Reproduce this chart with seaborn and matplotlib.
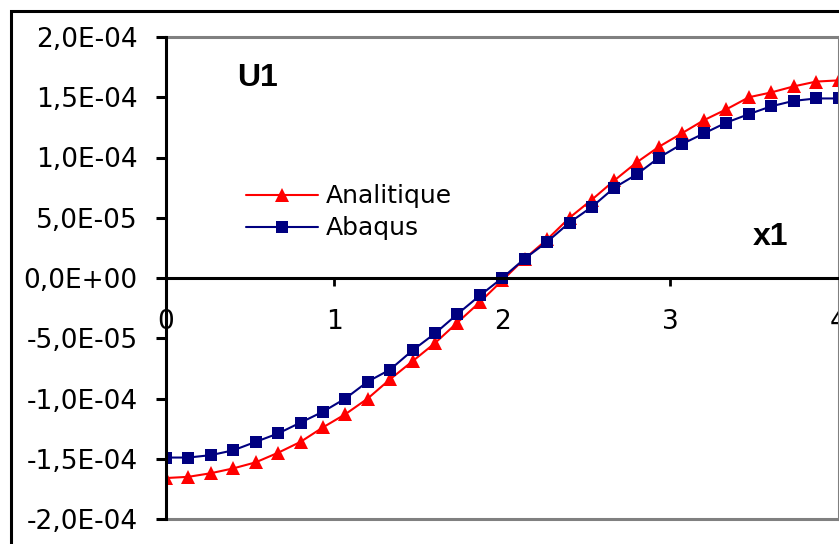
import matplotlib
matplotlib.use("Agg")
import matplotlib.pyplot as plt
from matplotlib.patches import Rectangle
import seaborn as sns
import numpy as np

# ---- data ----
x1 = [0.0, 0.133, 0.267, 0.4, 0.533, 0.667, 0.8, 0.933, 1.067, 1.2, 1.333,
      1.467, 1.6, 1.733, 1.867, 2.0, 2.133, 2.267, 2.4, 2.533, 2.667, 2.8,
      2.933, 3.067, 3.2, 3.333, 3.467, 3.6, 3.733, 3.867, 4.0]
analitique = [-16.6, -16.5, -16.2, -15.8, -15.3, -14.5, -13.6, -12.4, -11.3, -10.0, -8.4,
              -6.9, -5.4, -3.7, -2.0, -0.2, 1.6, 3.2, 5.0, 6.5, 8.1, 9.6,
              10.9, 12.0, 13.1, 14.0, 15.0, 15.4, 15.9, 16.3, 16.4]
abaqus = [-14.9, -14.9, -14.7, -14.3, -13.6, -12.9, -12.0, -11.1, -10.0, -8.6, -7.6,
          -6.0, -4.6, -3.0, -1.45, 0.0, 1.6, 3.0, 4.6, 5.9, 7.5, 8.6,
          10.0, 11.1, 12.0, 12.9, 13.6, 14.25, 14.7, 14.9, 14.9]
scale = 1e-5
series_names = ["Analitique", "Abaqus"]
xticks = [0, 1, 2, 3, 4]
xtick_labels = ["0", "1", "2", "3", "4"]
yticks = [-2e-4, -1.5e-4, -1e-4, -5e-5, 0.0, 5e-5, 1e-4, 1.5e-4, 2e-4]
ytick_labels = ["-2,0E-04", "-1,5E-04", "-1,0E-04", "-5,0E-05", "0,0E+00",
                "5,0E-05", "1,0E-04", "1,5E-04", "2,0E-04"]
title_text = "U1"
xlabel_text = "x1"

sns.set_style("white")
plt.rcParams["font.family"] = ["DejaVu Sans"]
plt.rcParams["text.color"] = "black"
plt.rcParams["xtick.color"] = "black"
plt.rcParams["ytick.color"] = "black"
plt.rcParams["xtick.labelcolor"] = "black"
plt.rcParams["ytick.labelcolor"] = "black"

W, H = 839, 544
fig = plt.figure(figsize=(W / 100, H / 100), dpi=100)
ax = fig.add_axes([166 / W, 25 / H, 672.5 / W, 482 / H])

ya = np.array(analitique) * scale
yb = np.array(abaqus) * scale
sns.lineplot(x=x1, y=ya, ax=ax, color="#FF0000", marker="^", markersize=9.5,
             markeredgewidth=0, linewidth=1.5, label=series_names[0], sort=False,
             errorbar=None)
sns.lineplot(x=x1, y=yb, ax=ax, color="#000080", marker="s", markersize=8.5,
             markeredgewidth=0, linewidth=1.5, label=series_names[1], sort=False,
             errorbar=None)

ax.set_xlim(0, 4)
ax.set_ylim(-2e-4, 2e-4)
ax.set_xticks(xticks)
ax.set_xticklabels(xtick_labels)
ax.set_yticks(yticks)
ax.set_yticklabels(ytick_labels)
ax.set_xlabel("")
ax.set_ylabel("")

ax.spines["bottom"].set_position(("data", 0))
ax.spines["bottom"].set_color("black")
ax.spines["bottom"].set_linewidth(2.2)
ax.spines["left"].set_color("black")
ax.spines["left"].set_linewidth(2.2)
ax.spines["left"].set_zorder(5)
for s in ["top", "right"]:
    ax.spines[s].set_color("#808080")
    ax.spines[s].set_linewidth(2.2)
ax.axhline(-2e-4, color="#808080", lw=2.2, clip_on=False, zorder=1)

ax.tick_params(axis="y", direction="out", length=7, width=2.2, color="black",
               labelcolor="black", labelsize=19, pad=13.5, left=True)
ax.tick_params(axis="x", direction="out", length=6, width=2.0, color="black",
               labelcolor="black", labelsize=19, pad=16, bottom=True)

leg = ax.legend(loc="center left", bbox_to_anchor=(246 / W, 1 - 212.5 / H),
                bbox_transform=fig.transFigure, frameon=False, fontsize=18,
                handlelength=2.88, handletextpad=0.32, labelspacing=0.32,
                borderpad=0, borderaxespad=0, numpoints=1, labelcolor="black")

fig.text(237 / W, 1 - 78 / H, title_text, family="Liberation Sans",
         weight="bold", fontsize=23, ha="left", va="center", color="black")
fig.text(753 / W, 1 - 237 / H, xlabel_text, family="Liberation Sans",
         weight="bold", fontsize=23, ha="left", va="center", color="black")

fig.patches.append(Rectangle((11 / W, -0.1), 1.2, (H - 11) / H + 0.1,
                             transform=fig.transFigure, fill=False,
                             edgecolor="black", linewidth=2.2))

fig.savefig("out.png", dpi=100)
